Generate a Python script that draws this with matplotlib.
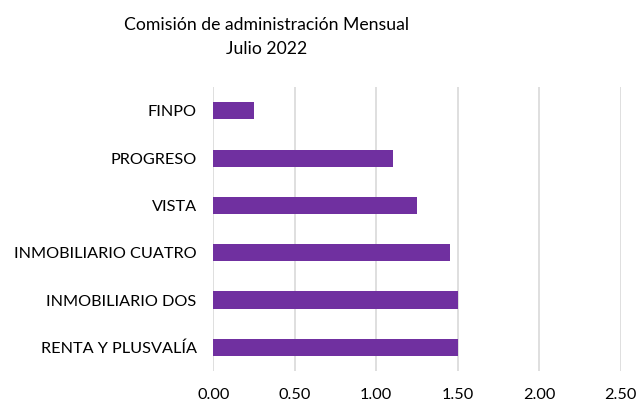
import matplotlib
matplotlib.use("Agg")
import matplotlib.pyplot as plt

categories = ["FINPO", "PROGRESO", "VISTA", "INMOBILIARIO CUATRO", "INMOBILIARIO DOS", "RENTA Y PLUSVALÍA"]
values = [0.25, 1.10, 1.25, 1.45, 1.50, 1.50]
xticks = [0.0, 0.5, 1.0, 1.5, 2.0, 2.5]
xticklabels = ["0.00", "0.50", "1.00", "1.50", "2.00", "2.50"]
title = "Comisión de administración Mensual\nJulio 2022"

plt.rcParams['font.family'] = ['Lato', 'DejaVu Sans']

fig = plt.figure(figsize=(6.42, 4.05), dpi=100)
ax = fig.add_axes([0.3323, 0.084, 0.967 - 0.3323, 0.785 - 0.084])

ypos = list(range(len(categories)))
ax.barh(ypos, values, height=0.36, color="#7030A0", zorder=3)
ax.set_yticks(ypos)
ax.set_yticklabels(categories, fontsize=11.7, color="#000000")
ax.set_ylim(len(categories) - 0.5, -0.5)
ax.set_xlim(0, 2.5)
ax.set_xticks(xticks)
ax.set_xticklabels(xticklabels, fontsize=11.7, color="#000000")
ax.grid(axis="x", color="#D9D9D9", linewidth=1.2, zorder=0)
for s in ax.spines.values():
    s.set_visible(False)
ax.tick_params(axis="both", length=0)
ax.tick_params(axis="y", pad=12)
ax.tick_params(axis="x", pad=12)

fig.text(267 / 642, 1 - 37 / 405, title, ha="center", va="center", fontsize=12.7,
         linespacing=1.65, color="#000000")

fig.savefig("out.png", dpi=100, facecolor="white")
